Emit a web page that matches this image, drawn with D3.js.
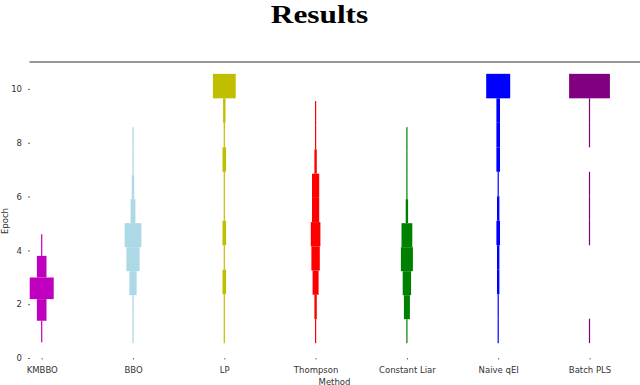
<!DOCTYPE html>
<html>
<head>
<meta charset="utf-8">
<script src="https://cdn.jsdelivr.net/npm/d3@7"></script>
<style>
  html, body { margin: 0; padding: 0; background: #fff; }
  svg { display: block; }
</style>
</head>
<body>
<svg id="chart" width="640" height="385"></svg>
<script>
// ---- data ----
const methods = ["KMBBO", "BBO", "LP", "Thompson", "Constant Liar", "Naive qEI", "Batch PLS"];
const colors = ["#bf00bf", "#add8e6", "#bfbf00", "#ff0000", "#008000", "#0000ff", "#800080"];
// histogram bins per method: first bin start, bin width, counts per bin (bottom to top)
const binStart = [0.58, 0.55, 0.55, 0.55, 0.55, 0.55, 0.55];
const binSize = [0.804, 0.892, 0.91, 0.90, 0.892, 0.91, 0.91];
const countsKMBBO = [1, 8, 20, 8, 1];
const countsBBO = [1, 1, 6, 11, 14, 4, 2, 1, 1];
const countsLP = [1, 1, 3, 1, 3, 1, 1, 3, 1, 2, 19];
const countsThompson = [1, 2, 5, 7, 8, 6, 6, 2, 1, 1];
const countsConstantLiar = [1, 5, 7, 10, 9, 2, 1, 1, 1];
const countsNaiveQEI = [1, 1, 2, 2, 3, 2, 1, 3, 3, 3, 20];
const countsBatchPLS = [1, 0, 0, 0, 1, 1, 1, 0, 1, 1, 34];
const allCounts = [countsKMBBO, countsBBO, countsLP, countsThompson, countsConstantLiar, countsNaiveQEI, countsBatchPLS];
const yTicks = [0, 2, 4, 6, 8, 10];
const yDomain = [0, 11];
const titleText = "Results";
const xLabel = "Method";
const yLabel = "Epoch";

// ---- layout ----
const svg = d3.select("#chart");
const plotLeft = 30, plotRight = 640, plotTop = 62, plotBottom = 358;

const y = d3.scaleLinear().domain(yDomain).range([plotBottom, plotTop]);
const x = d3.scalePoint().domain(methods).range([41.7, 589.5]);
const maxCount = d3.max(allCounts.flat());
const w = d3.scaleLinear().domain([0, maxCount]).range([0, maxCount * 1.2]);

// title
svg.append("text")
  .attr("x", 319.5).attr("y", 22.5)
  .attr("text-anchor", "middle")
  .attr("font-family", "'Liberation Serif', 'Times New Roman', serif")
  .attr("font-weight", "bold")
  .attr("font-size", 25)
  .attr("textLength", 97.5)
  .attr("lengthAdjust", "spacingAndGlyphs")
  .attr("fill", "#000")
  .text(titleText);

// top border line
svg.append("line")
  .attr("x1", plotLeft - 0.5).attr("x2", plotRight)
  .attr("y1", y(yDomain[1])).attr("y2", y(yDomain[1]))
  .attr("stroke", "#333").attr("stroke-width", 1.2);

// bars (histogram "violins")
methods.forEach((m, i) => {
  const cx = x(m);
  const g = svg.append("g").attr("fill", colors[i]);
  const bins = allCounts[i].map((c, k) => ({
    c,
    lo: binStart[i] + k * binSize[i],
    hi: binStart[i] + (k + 1) * binSize[i]
  })).filter(d => d.c > 0);
  g.selectAll("rect").data(bins).join("rect")
    .attr("x", d => cx - w(d.c) / 2)
    .attr("width", d => w(d.c))
    .attr("y", d => y(d.hi))
    .attr("height", d => y(d.lo) - y(d.hi));
});

// y axis
const yAxis = svg.append("g")
  .attr("transform", `translate(${plotLeft},0)`)
  .call(d3.axisLeft(y).tickValues(yTicks).tickSize(2).tickPadding(6).tickFormat(d3.format("d")));
yAxis.select(".domain").remove();
yAxis.selectAll("line").attr("stroke", "#666");
yAxis.selectAll("text")
  .attr("font-family", "'DejaVu Sans', sans-serif")
  .attr("font-size", 8.5)
  .attr("fill", "#333");

// x axis
const xAxis = svg.append("g")
  .attr("transform", `translate(0,${plotBottom})`)
  .call(d3.axisBottom(x).tickSize(1.5).tickPadding(7.5));
xAxis.select(".domain").remove();
xAxis.selectAll("line").attr("stroke", "#666");
xAxis.selectAll("text")
  .attr("font-family", "'DejaVu Sans', sans-serif")
  .attr("font-size", 8.5)
  .attr("fill", "#333");

// axis labels
svg.append("text")
  .attr("x", (plotLeft + plotRight) / 2 - 0.5).attr("y", 384.5)
  .attr("text-anchor", "middle")
  .attr("font-family", "'DejaVu Sans', sans-serif")
  .attr("font-size", 8.5)
  .attr("fill", "#333")
  .text(xLabel);

svg.append("text")
  .attr("transform", `translate(8,221) rotate(-90)`)
  .attr("text-anchor", "middle")
  .attr("font-family", "'DejaVu Sans', sans-serif")
  .attr("font-size", 8.5)
  .attr("fill", "#333")
  .text(yLabel);
</script>
</body>
</html>
